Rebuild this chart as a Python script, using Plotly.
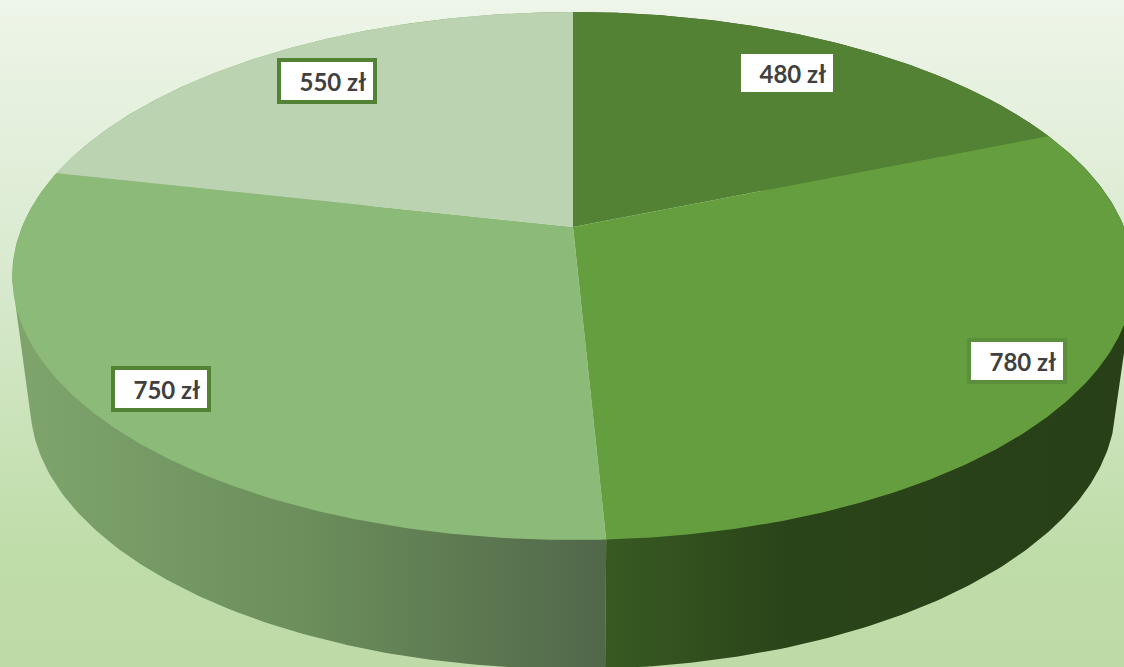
import numpy as np
import plotly.graph_objects as go

categories = ["A", "B", "C", "D"]
values = [480, 780, 750, 550]
value_labels = ["480 zł", "780 zł", "750 zł", "550 zł"]

top_colors = ["#548235", "#659E3F", "#8CBA78", "#BBD3B0"]
border_colors = ["#548235", "#5C8F3C", "#548235", "#548235"]
side_scales = [
    [[0, "#3A5A25"], [1, "#3A5A25"]],
    [[0, "#385A22"], [0.35, "#2A4419"], [1, "#283F18"]],
    [[0, "#7FA56D"], [0.5, "#6B8E5B"], [1, "#51674A"]],
    [[0, "#7FA56D"], [1, "#7FA56D"]],
]
# label centres in chart pixels
label_x = [787, 1017, 161, 327]
label_y = [73, 361, 389, 81]

W, H = 1124, 667
CX, CY = 573, 227
K = -98 / 528
A = 551
B = 254.9
# lower rim of the disc relative to the upper rim
TOP_MID_Y, BOT_MID_Y = 276, 404
SX, SY = 543 / 561, 265 / 264


def top_xy(theta, r=1.0):
    u, v = r * np.sin(theta), -r * np.cos(theta)
    d = 1 + K * v
    return CX + A * u / d, CY + B * v / d


def bottom_xy(theta):
    x, y = top_xy(theta)
    return CX + SX * (x - CX), BOT_MID_Y + SY * (y - TOP_MID_Y)


def hull(points):
    pts = sorted(set(map(tuple, np.round(points, 3))))
    def half(seq):
        out = []
        for p in seq:
            while len(out) >= 2 and (out[-1][0]-out[-2][0])*(p[1]-out[-2][1]) - (out[-1][1]-out[-2][1])*(p[0]-out[-2][0]) <= 0:
                out.pop()
            out.append(p)
        return out[:-1]
    return np.array(half(pts) + half(pts[::-1]))


fractions = np.cumsum([0] + values) / sum(values) * 2 * np.pi
fig = go.Figure()

fig.add_trace(go.Scatter(
    x=[0, W, W, 0, 0], y=[0, 0, H, H, 0], mode="lines", line=dict(width=0),
    fill="toself", hoverinfo="skip", showlegend=False,
    fillgradient=dict(type="vertical", start=0, stop=H, colorscale=[
        [0, "#EEF5E9"], [0.4, "#D9EACF"], [0.82, "#BFDDA9"], [1, "#BEDBA7"]]),
))

# visible rim pieces first
for i in [0, 3, 2, 1]:
    t = np.linspace(fractions[i], fractions[i + 1], 160)
    tx, ty = top_xy(t)
    bx, by = bottom_xy(t)
    h = hull(np.column_stack([np.r_[tx, bx], np.r_[ty, by]]))
    fig.add_trace(go.Scatter(
        x=np.r_[h[:, 0], h[0, 0]], y=np.r_[h[:, 1], h[0, 1]],
        mode="lines", line=dict(width=0), fill="toself",
        fillgradient=dict(type="horizontal", colorscale=side_scales[i]),
        hoverinfo="skip", showlegend=False, name=categories[i],
    ))

# top face
for i in range(4):
    t = np.linspace(fractions[i], fractions[i + 1], 200)
    x, y = top_xy(t)
    fig.add_trace(go.Scatter(
        x=np.r_[CX, x, CX], y=np.r_[CY, y, CY], mode="lines",
        line=dict(width=0), fill="toself", fillcolor=top_colors[i],
        hoverinfo="skip", showlegend=False, name=categories[i],
    ))

for i in range(4):
    fig.add_annotation(
        x=label_x[i], y=label_y[i], xref="x", yref="y", showarrow=False,
        text="<b>&nbsp;&nbsp;%s</b>" % value_labels[i],
        font=dict(family="Lato", size=24, color="#404040"),
        bgcolor="white", bordercolor=border_colors[i],
        borderwidth=0 if i == 0 else 4, borderpad=0,
        width=92, height=38, align="center", valign="middle",
    )

fig.update_layout(
    width=W, height=H, margin=dict(l=0, r=0, t=0, b=0),
    paper_bgcolor="#EEF5E9", plot_bgcolor="rgba(0,0,0,0)",
    xaxis=dict(range=[0, W], visible=False, fixedrange=True),
    yaxis=dict(range=[H, 0], visible=False, fixedrange=True),
    showlegend=False,
)
fig.write_html("out.html", config={"displayModeBar": False},
               post_script="document.body.style.margin='0';document.body.style.overflow='hidden';")
